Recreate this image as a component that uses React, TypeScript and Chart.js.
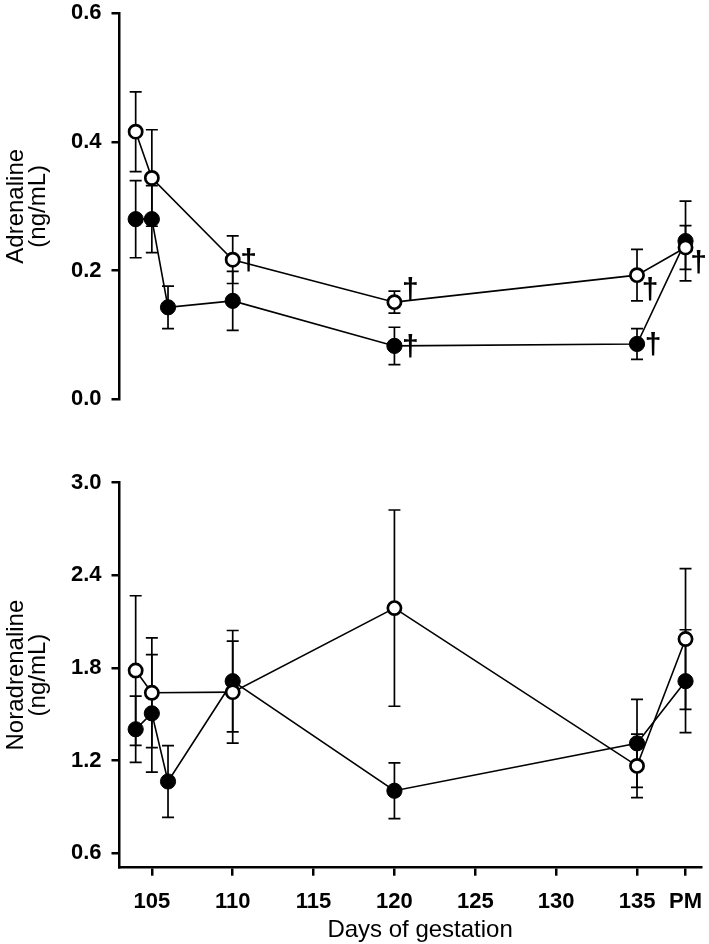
import React, { useEffect, useRef } from 'react';
import { Chart, registerables } from 'chart.js';

Chart.register(...registerables);

// ---- data ----
const daysOpen = [104, 105, 110, 120, 135, 138];
const daysFilled = [104, 105, 106, 110, 120, 135, 138];

const xTickValues = [105, 110, 115, 120, 125, 130, 135, 138];
const xTickLabels = ['105', '110', '115', '120', '125', '130', '135', 'PM'];
const xTitle = 'Days of gestation';

const adrTicks = [0, 0.2, 0.4, 0.6];
const norTicks = [0.6, 1.2, 1.8, 2.4, 3.0];

const adrOpen = [0.416, 0.344, 0.217, 0.151, 0.193, 0.236];
const adrOpenErr = [0.062, 0.075, 0.037, 0.017, 0.040, 0.034];
const adrFilled = [0.280, 0.280, 0.143, 0.153, 0.083, 0.086, 0.246];
const adrFilledErr = [0.060, 0.052, 0.033, 0.046, 0.029, 0.024, 0.062];

const norOpen = [1.783, 1.639, 1.643, 2.187, 1.166, 1.987];
const norOpenErr = [0.484, 0.355, 0.330, 0.635, 0.205, 0.455];
const norFilled = [1.403, 1.506, 1.065, 1.714, 1.005, 1.312, 1.714];
const norFilledErr = [0.214, 0.380, 0.232, 0.328, 0.180, 0.285, 0.333];

// significance marks (dagger) : dataset 0 = open, 1 = filled
const adrDaggers = [
  { dataset: 0, index: 2, pos: 'right' },
  { dataset: 0, index: 3, pos: 'upright' },
  { dataset: 1, index: 4, pos: 'right' },
  { dataset: 0, index: 4, pos: 'lowright' },
  { dataset: 1, index: 5, pos: 'right' },
  { dataset: 0, index: 5, pos: 'lowright' },
];
const norDaggers: { dataset: number; index: number; pos: string }[] = [];

const FONT = "'Liberation Sans', Arial, Helvetica, sans-serif";

const daggerOffsets: Record<string, [number, number]> = {
  right: [16, 2],
  upright: [16, -11],
  lowright: [13, 16],
};

const errorBarPlugin = {
  id: 'errorBars',
  beforeDatasetsDraw(chart: any) {
    const ctx = chart.ctx;
    const xs = chart.scales.x;
    const ys = chart.scales.y;
    ctx.save();
    ctx.strokeStyle = '#000';
    ctx.lineWidth = 1.7;
    chart.data.datasets.forEach((ds: any) => {
      const errs: number[] = ds.errors || [];
      ds.data.forEach((p: any, i: number) => {
        const e = errs[i];
        if (e == null) return;
        const x = xs.getPixelForValue(p.x);
        const y1 = ys.getPixelForValue(p.y + e);
        const y2 = ys.getPixelForValue(p.y - e);
        const w = 6;
        ctx.beginPath();
        ctx.moveTo(x, y1);
        ctx.lineTo(x, y2);
        ctx.moveTo(x - w, y1);
        ctx.lineTo(x + w, y1);
        ctx.moveTo(x - w, y2);
        ctx.lineTo(x + w, y2);
        ctx.stroke();
      });
    });
    ctx.restore();
  },
};

const daggerPlugin = {
  id: 'daggers',
  afterDatasetsDraw(chart: any, _args: any, opts: any) {
    const marks = (opts && opts.marks) || [];
    const ctx = chart.ctx;
    const xs = chart.scales.x;
    const ys = chart.scales.y;
    ctx.save();
    ctx.fillStyle = '#000';
    ctx.font = `bold 30px ${FONT}`;
    ctx.textAlign = 'center';
    ctx.textBaseline = 'middle';
    marks.forEach((m: any) => {
      const p = chart.data.datasets[m.dataset].data[m.index];
      const [dx, dy] = daggerOffsets[m.pos];
      ctx.fillText('\u2020', xs.getPixelForValue(p.x) + dx, ys.getPixelForValue(p.y) + dy);
    });
    ctx.restore();
  },
};

// x-axis title drawn slightly right of the plot centre, as in the source figure
const xTitlePlugin = {
  id: 'xTitle',
  afterDraw(chart: any, _args: any, opts: any) {
    if (!opts || !opts.text) return;
    const ctx = chart.ctx;
    const area = chart.chartArea;
    ctx.save();
    ctx.fillStyle = '#000';
    ctx.font = `24px ${FONT}`;
    ctx.textAlign = 'center';
    ctx.textBaseline = 'alphabetic';
    ctx.fillText(opts.text, (area.left + area.right) / 2 + 9.5, chart.height - 7.5);
    ctx.restore();
  },
};

function makeDatasets(openVals: number[], openErr: number[], filledVals: number[], filledErr: number[]) {
  return [
    {
      label: 'open',
      data: daysOpen.map((d, i) => ({ x: d, y: openVals[i] })),
      errors: openErr,
      borderColor: '#000',
      borderWidth: 1.6,
      backgroundColor: '#fff',
      pointBackgroundColor: '#fff',
      pointBorderColor: '#000',
      pointBorderWidth: 2.7,
      pointRadius: 6.6,
      tension: 0,
      clip: false,
    },
    {
      label: 'filled',
      data: daysFilled.map((d, i) => ({ x: d, y: filledVals[i] })),
      errors: filledErr,
      borderColor: '#000',
      borderWidth: 1.6,
      backgroundColor: '#000',
      pointBackgroundColor: '#000',
      pointBorderColor: '#000',
      pointBorderWidth: 1,
      pointRadius: 7.6,
      tension: 0,
      clip: false,
    },
  ];
}

const tickFont = { family: FONT, size: 22, weight: 'bold' as const };
const titleFont = { family: FONT, size: 24, weight: 'normal' as const, lineHeight: 0.92 };

function yScale(ticks: number[], min: number, max: number, title: string[]) {
  return {
    type: 'linear' as const,
    min,
    max,
    afterBuildTicks: (s: any) => {
      s.ticks = ticks.map((v) => ({ value: v }));
    },
    afterFit: (s: any) => {
      s.width = 119.5;
      s.paddingTop = 0;
      s.paddingBottom = 0;
    },
    ticks: {
      callback: (v: any) => Number(v).toFixed(1),
      font: tickFont,
      color: '#000',
      padding: 10,
    },
    grid: {
      display: true,
      drawOnChartArea: false,
      drawTicks: true,
      tickLength: 8,
      color: '#000',
      lineWidth: 2.5,
    },
    border: { display: true, color: '#000', width: 2.5 },
    title: {
      display: true,
      text: title,
      font: titleFont,
      color: '#000',
      padding: { top: 5, bottom: 0 },
    },
  };
}

function xScale(show: boolean) {
  return {
    type: 'linear' as const,
    min: 103,
    max: 139,
    display: show,
    afterBuildTicks: (s: any) => {
      s.ticks = xTickValues.map((v) => ({ value: v }));
    },
    afterFit: (s: any) => {
      if (show) s.height = 76.3;
      s.paddingLeft = 0;
      s.paddingRight = 0;
    },
    ticks: {
      callback: (v: any) => {
        const i = xTickValues.indexOf(Number(v));
        return i >= 0 ? xTickLabels[i] : '';
      },
      font: tickFont,
      color: '#000',
      padding: 13,
      maxRotation: 0,
      autoSkip: false,
    },
    grid: {
      display: true,
      drawOnChartArea: false,
      drawTicks: true,
      tickLength: 8,
      color: '#000',
      lineWidth: 2.5,
    },
    border: { display: true, color: '#000', width: 2.5 },
  };
}

export default function App() {
  const topRef = useRef<HTMLCanvasElement>(null);
  const botRef = useRef<HTMLCanvasElement>(null);

  useEffect(() => {
    const top = new Chart(topRef.current as HTMLCanvasElement, {
      type: 'line',
      data: { datasets: makeDatasets(adrOpen, adrOpenErr, adrFilled, adrFilledErr) as any },
      options: {
        animation: false,
        responsive: false,
        devicePixelRatio: 1,
        layout: { autoPadding: false, padding: { top: 13.3, right: 7.3, bottom: 20.7, left: 0 } },
        plugins: {
          legend: { display: false },
          tooltip: { enabled: false },
          daggers: { marks: adrDaggers },
          xTitle: { text: '' },
        } as any,
        scales: {
          x: xScale(false),
          y: yScale(adrTicks, 0, 0.6, ['Adrenaline', '(ng/mL)']),
        } as any,
      },
      plugins: [errorBarPlugin, daggerPlugin, xTitlePlugin],
    });
    const bot = new Chart(botRef.current as HTMLCanvasElement, {
      type: 'line',
      data: { datasets: makeDatasets(norOpen, norOpenErr, norFilled, norFilledErr) as any },
      options: {
        animation: false,
        responsive: false,
        devicePixelRatio: 1,
        layout: { autoPadding: false, padding: { top: 42.5, right: 7.3, bottom: 0, left: 0 } },
        plugins: {
          legend: { display: false },
          tooltip: { enabled: false },
          daggers: { marks: norDaggers },
          xTitle: { text: xTitle },
        } as any,
        scales: {
          x: xScale(true),
          y: yScale(norTicks, 0.507, 3.0, ['Noradrenaline', '(ng/mL)']),
        } as any,
      },
      plugins: [errorBarPlugin, daggerPlugin, xTitlePlugin],
    });
    return () => {
      top.destroy();
      bot.destroy();
    };
  }, []);

  return (
    <div style={{ position: 'fixed', left: 0, top: 0, width: 709, height: 944, background: '#fff' }}>
      <canvas ref={topRef} width={709} height={420} style={{ position: 'absolute', left: 0, top: 0 }} />
      <canvas ref={botRef} width={709} height={504} style={{ position: 'absolute', left: 0, top: 440 }} />
    </div>
  );
}
